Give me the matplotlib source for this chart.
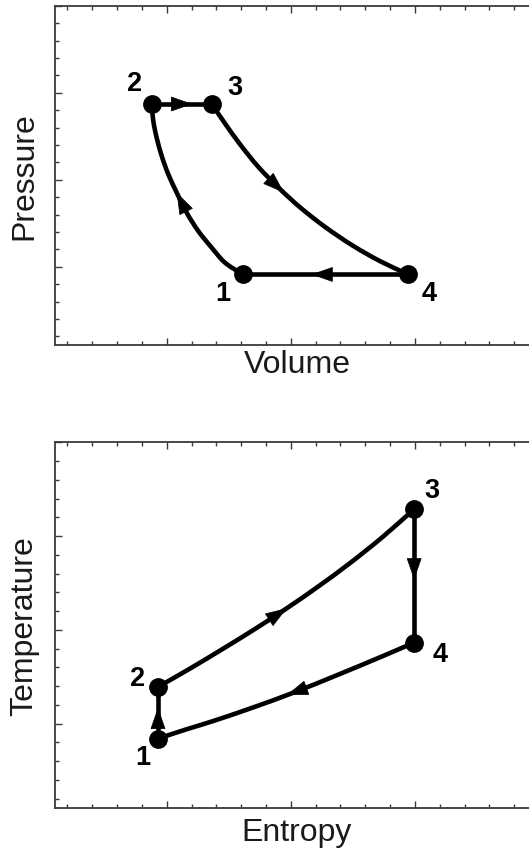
import numpy as np
import matplotlib
matplotlib.use("Agg")
import matplotlib.pyplot as plt
from matplotlib.patches import Polygon, PathPatch
from matplotlib.path import Path
from matplotlib.ticker import MultipleLocator

# ---------------- data ----------------
# P-V diagram: state points 1..4
pv_labels = ["1", "2", "3", "4"]
pv_volume = [1.613, 0.879, 1.363, 2.948]
pv_pressure = [0.911, 2.870, 2.870, 0.911]

# 1 -> 2 compression curve
comp_volume = [1.613, 1.470, 1.363, 1.255, 1.161, 1.081, 1.013, 0.960, 0.919, 0.892, 0.879]
comp_pressure = [0.911, 1.046, 1.218, 1.409, 1.621, 1.851, 2.062, 2.272, 2.484, 2.675, 2.870]
# 3 -> 4 expansion curve
exp_volume = [1.363, 1.470, 1.591, 1.736, 1.898, 2.075, 2.277, 2.494, 2.720, 2.948]
exp_pressure = [2.870, 2.646, 2.407, 2.151, 1.913, 1.682, 1.456, 1.247, 1.063, 0.911]

# T-S diagram: state points 1..4
ts_labels = ["1", "2", "3", "4"]
ts_entropy = [0.930, 0.930, 2.994, 2.994]
ts_temperature = [0.840, 1.391, 3.287, 1.864]

# 2 -> 3 heating curve
heat_entropy = [0.930, 1.188, 1.446, 1.704, 1.962, 2.220, 2.478, 2.736, 2.994]
heat_temperature = [1.391, 1.587, 1.792, 2.003, 2.225, 2.461, 2.713, 2.986, 3.287]
# 4 -> 1 cooling curve
cool_entropy = [2.994, 2.720, 2.371, 2.021, 1.698, 1.376, 1.161, 0.930]
cool_temperature = [1.864, 1.708, 1.516, 1.330, 1.173, 1.028, 0.940, 0.840]

# ---------------- figure ----------------
W, H, DPI = 529, 854, 100
fig = plt.figure(figsize=(W / DPI, H / DPI), dpi=DPI)
fig.patch.set_facecolor("white")

FONT = "Liberation Sans"
LINE_C = "#000000"
SPINE_C = "#3a3a3a"


def px_rect(left, top, right, bottom):
    return [left / W, 1 - bottom / H, (right - left) / W, (bottom - top) / H]


ax1 = fig.add_axes(px_rect(55, 6.7, 539, 346))
ax2 = fig.add_axes(px_rect(55, 443.3, 539, 809))

for ax in (ax1, ax2):
    ax.set_xlim(0.1, 4.0)
    ax.set_ylim(0.1, 4.0)
    ax.xaxis.set_major_locator(MultipleLocator(1.0))
    ax.xaxis.set_minor_locator(MultipleLocator(0.2))
    ax.yaxis.set_major_locator(MultipleLocator(1.0))
    ax.yaxis.set_minor_locator(MultipleLocator(0.2))
    ax.tick_params(which="both", direction="in", top=True, right=True,
                   labelbottom=False, labelleft=False, color=SPINE_C, width=1.0)
    ax.tick_params(which="major", length=5.0)
    ax.tick_params(which="minor", length=2.8)
    for sp in ax.spines.values():
        sp.set_color(SPINE_C)
        sp.set_linewidth(1.3)

LW = 3.3
MS = 12.5


def draw_line(ax, xs, ys):
    """Draw a smooth (Catmull-Rom -> cubic Bezier) path through the read points."""
    pts = np.column_stack([xs, ys]).astype(float)
    if len(pts) < 3:
        ax.plot(xs, ys, color=LINE_C, lw=LW, solid_capstyle="round", zorder=2)
        return
    disp = ax.transData.transform(pts)
    ext = np.vstack([2 * disp[0] - disp[1], disp, 2 * disp[-1] - disp[-2]])
    verts = [disp[0]]
    codes = [Path.MOVETO]
    for k in range(1, len(ext) - 2):
        p0, p1, p2, p3 = ext[k - 1], ext[k], ext[k + 1], ext[k + 2]
        c1 = p1 + (p2 - p0) / 6.0
        c2 = p2 - (p3 - p1) / 6.0
        verts += [c1, c2, p2]
        codes += [Path.CURVE4] * 3
    verts = ax.transData.inverted().transform(np.array(verts))
    ax.add_patch(PathPatch(Path(verts, codes), facecolor="none",
                           edgecolor=LINE_C, lw=LW, capstyle="round",
                           joinstyle="round", zorder=2))


def arrow_along(ax, xs, ys, frac, length_px=20.0, width_px=14.0):
    pts = ax.transData.transform(np.column_stack([xs, ys]))
    seg = np.diff(pts, axis=0)
    seglen = np.hypot(seg[:, 0], seg[:, 1])
    cum = np.concatenate([[0.0], np.cumsum(seglen)])
    target = frac * cum[-1]
    i = int(np.clip(np.searchsorted(cum, target) - 1, 0, len(seglen) - 1))
    t = (target - cum[i]) / seglen[i]
    tip = pts[i] + t * seg[i]
    d = seg[i] / seglen[i]
    perp = np.array([-d[1], d[0]])
    base = tip - d * length_px
    tri = np.array([tip, base + perp * width_px / 2, base - perp * width_px / 2])
    tri_data = ax.transData.inverted().transform(tri)
    ax.add_patch(Polygon(tri_data, closed=True, facecolor=LINE_C,
                         edgecolor=LINE_C, lw=0.5, zorder=3))


# ---- P-V ----
i1, i2, i3, i4 = 0, 1, 2, 3
seg12 = (comp_volume, comp_pressure)
seg23 = ([pv_volume[i2], pv_volume[i3]], [pv_pressure[i2], pv_pressure[i3]])
seg34 = (exp_volume, exp_pressure)
seg41 = ([pv_volume[i4], pv_volume[i1]], [pv_pressure[i4], pv_pressure[i1]])
pv_arrow_frac = [0.53, 0.66, 0.43, 0.58]
for (xs, ys), f in zip([seg12, seg23, seg34, seg41], pv_arrow_frac):
    draw_line(ax1, xs, ys)
    arrow_along(ax1, xs, ys, f)
ax1.plot(pv_volume, pv_pressure, "o", color=LINE_C, ms=MS, zorder=4)

LBL_FS = 19.5
pv_label_offsets = [(-14.4, -13.2), (-12.6, 15.0), (16.4, 12.0), (15.0, -13.2)]
for lab, x, y, off in zip(pv_labels, pv_volume, pv_pressure, pv_label_offsets):
    ax1.annotate(lab, (x, y), xytext=off, textcoords="offset points",
                 ha="center", va="center", fontsize=LBL_FS, fontweight="bold",
                 family=FONT, color=LINE_C)

# ---- T-S ----
tseg12 = ([ts_entropy[i1], ts_entropy[i2]], [ts_temperature[i1], ts_temperature[i2]])
tseg23 = (heat_entropy, heat_temperature)
tseg34 = ([ts_entropy[i3], ts_entropy[i4]], [ts_temperature[i3], ts_temperature[i4]])
tseg41 = (cool_entropy, cool_temperature)
ts_arrow_frac = [0.58, 0.48, 0.52, 0.50]
for (xs, ys), f in zip([tseg12, tseg23, tseg34, tseg41], ts_arrow_frac):
    draw_line(ax2, xs, ys)
    arrow_along(ax2, xs, ys, f)
ax2.plot(ts_entropy, ts_temperature, "o", color=LINE_C, ms=MS, zorder=4)

ts_label_offsets = [(-11.2, -13.2), (-14.4, 6.5), (12.8, 13.7), (18.9, -7.9)]
for lab, x, y, off in zip(ts_labels, ts_entropy, ts_temperature, ts_label_offsets):
    ax2.annotate(lab, (x, y), xytext=off, textcoords="offset points",
                 ha="center", va="center", fontsize=LBL_FS, fontweight="bold",
                 family=FONT, color=LINE_C)

# ---- axis titles ----
LAB_FS = 23
LAB_C = "#1a1a1a"
fig.text(297 / W, 1 - 365 / H, "Volume", ha="center", va="center",
         fontsize=LAB_FS, family=FONT, color=LAB_C)
fig.text(297 / W, 1 - 833 / H, "Entropy", ha="center", va="center",
         fontsize=LAB_FS, family=FONT, color=LAB_C)
fig.text(24 / W, 1 - 176 / H, "Pressure", ha="center", va="center",
         rotation=90, fontsize=LAB_FS, family=FONT, color=LAB_C)
fig.text(24 / W, 1 - 626 / H, "Temperature", ha="center", va="center",
         rotation=90, fontsize=LAB_FS, family=FONT, color=LAB_C)

fig.savefig("out.png", dpi=DPI, facecolor="white")
